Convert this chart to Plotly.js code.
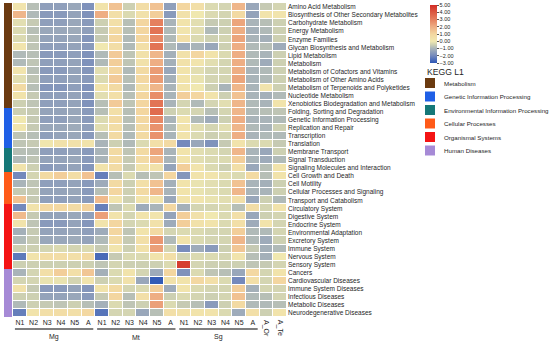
<!DOCTYPE html>
<html><head><meta charset="utf-8">
<script src="https://cdn.plot.ly/plotly-3.0.1.min.js"></script>
<style>html,body{margin:0;padding:0;background:#fff}#c{width:550px;height:341px}</style>
</head><body><div id="c"></div>
<script>
const rowLabels = ["Amino Acid Metabolism","Biosynthesis of Other Secondary Metabolites","Carbohydrate Metabolism","Energy Metabolism","Enzyme Families","Glycan Biosynthesis and Metabolism","Lipid Metabolism","Metabolism","Metabolism of Cofactors and Vitamins","Metabolism of Other Amino Acids","Metabolism of Terpenoids and Polyketides","Nucleotide Metabolism","Xenobiotics Biodegradation and Metabolism","Folding, Sorting and Degradation","Genetic Information Processing","Replication and Repair","Transcription","Translation","Membrane Transport","Signal Transduction","Signaling Molecules and Interaction","Cell Growth and Death","Cell Motility","Cellular Processes and Signaling","Transport and Catabolism","Circulatory System","Digestive System","Endocrine System","Environmental Adaptation","Excretory System","Immune System","Nervous System","Sensory System","Cancers","Cardiovascular Diseases","Immune System Diseases","Infectious Diseases","Metabolic Diseases","Neurodegenerative Diseases"];
const colLabels = ["N1","N2","N3","N4","N5","A","N1","N2","N3","N4","N5","A","N1","N2","N3","N4","N5","A","A_Or","A_Te"];
const groupNames = ["Mg","Mt","Sg"];
const groupFirst = [0,6,12];
const groupLast = [5,11,17];
const keggCategories = ["Metabolism","Genetic Information Processing","Environmental Information Processing","Cellular Processes","Organismal Systems","Human Diseases"];
const keggColors = ["#6b3a10","#1f5fe6","#157878","#ff5a18","#f41414","#a68ad6"];
const rowCategory = [0,0,0,0,0,0,0,0,0,0,0,0,0,1,1,1,1,1,2,2,2,3,3,3,3,4,4,4,4,4,4,4,4,5,5,5,5,5,5];
const values = [
[0.2,-0.8,-1.5,-1.5,-1.3,-1.8,0.3,1.5,-0.5,0.6,1.5,-1.5,1.0,0.5,-0.3,-0.4,1.8,-1.3,-0.6,-0.4],
[1.8,-0.9,-1.6,-1.6,-1.4,-1.8,2.0,0.5,-0.3,0.4,1.2,-1.6,0.4,0.0,-0.3,-0.4,0.8,-1.4,0.3,0.2],
[-0.2,-0.6,-1.5,-1.5,-1.3,-1.6,-0.5,0.5,-0.8,1.0,3.0,-1.0,0.3,-0.2,-0.6,-0.5,2.2,-1.0,-0.8,-0.5],
[-0.3,-0.8,-1.3,-1.3,-1.2,-1.5,-0.6,0.8,-0.8,1.0,3.3,-0.9,0.2,-0.2,-0.9,-0.5,2.0,-1.1,-0.9,-0.5],
[-0.3,-0.7,-1.4,-1.4,-1.3,-1.7,-0.6,1.0,-0.9,1.0,2.8,-0.9,0.5,-0.3,-0.5,-0.4,2.2,-1.0,-1.1,-0.5],
[0.2,-0.7,-1.5,-1.5,-1.4,-1.6,0.0,0.6,-0.9,0.5,3.3,-0.9,-1.2,-1.0,-1.3,-0.5,2.0,-0.9,-0.8,-1.2],
[-0.9,-0.8,-1.6,-1.6,-1.5,-1.8,-0.9,1.3,-0.7,0.4,1.8,-1.1,0.4,1.0,0.3,-0.3,2.0,-0.9,-1.0,-0.5],
[-0.9,-0.7,-1.5,-1.5,-1.4,-1.8,-0.9,1.2,-0.7,0.4,2.0,-1.1,0.4,0.2,-0.2,-0.4,2.0,-0.9,-1.2,-0.5],
[0.2,-0.8,-1.6,-1.6,-1.4,-1.7,-0.2,1.0,-0.9,0.8,2.4,-1.3,0.3,-0.2,-0.4,-0.4,2.0,-1.0,-0.9,-0.5],
[-0.2,-0.7,-1.5,-1.5,-1.4,-1.6,-0.3,1.3,-0.8,0.9,2.4,-1.1,0.3,-0.1,-0.4,-0.4,2.2,-1.0,-0.9,-0.5],
[0.8,-0.8,-1.7,-1.7,-1.5,-1.8,0.3,0.8,-0.9,0.5,1.8,-1.0,0.3,0.0,-0.5,-1.0,1.8,-1.0,0.2,-0.5],
[0.3,-0.6,-1.5,-1.5,-1.4,-1.7,-0.2,0.5,-0.8,1.0,2.7,-1.0,1.2,1.0,0.3,-0.5,1.5,-1.0,-1.1,-0.9],
[-0.5,-0.7,-1.5,-1.5,-1.4,-1.8,-0.8,1.3,-0.7,1.0,3.3,-1.0,-0.4,-0.9,-0.4,-0.2,1.8,-0.9,-1.0,0.3],
[-0.5,-0.6,-1.4,-1.4,-1.3,-1.6,-0.8,0.5,-0.8,1.0,3.5,-0.5,-0.3,-0.4,-0.8,-0.4,1.8,-0.9,-0.8,-0.7],
[0.0,-0.6,-1.5,-1.5,-1.3,-1.6,-0.3,0.8,-0.8,0.9,2.8,-1.0,0.2,-0.9,-1.2,-0.5,2.0,-1.0,-1.0,-0.9],
[0.1,-0.6,-1.3,-1.3,-1.2,-1.5,-0.2,0.6,-0.8,0.8,2.6,-0.9,0.3,-0.2,-0.4,-0.2,1.8,-0.9,-1.0,-0.5],
[-0.7,-0.8,-1.5,-1.4,-1.3,-1.6,-0.8,0.8,-0.9,0.8,2.6,-1.0,0.3,-0.3,-0.5,-0.4,2.0,-1.0,-0.9,-0.9],
[-0.7,-0.6,0.1,0.4,0.4,0.3,-1.0,-0.5,-0.9,-0.3,0.5,0.8,-2.0,-1.3,-1.8,-0.6,0.3,-0.3,-0.3,-0.6],
[-0.8,-0.8,-1.5,-1.5,-1.4,-1.6,-1.0,0.8,-0.7,0.8,2.2,-1.0,0.3,-0.2,-0.3,-0.4,1.8,-1.0,-1.3,-0.5],
[-0.9,-0.7,-1.4,-1.4,-1.3,-1.6,-1.0,0.8,-0.6,0.7,1.7,-1.0,0.3,-0.2,-0.3,-0.3,1.2,-1.0,-1.2,-0.9],
[0.3,-0.5,-1.6,-1.5,-1.4,-1.7,0.3,0.7,-0.6,0.3,0.4,-1.4,1.2,0.2,-0.3,-0.5,0.5,-1.3,-0.8,0.3],
[-2.0,-0.4,0.8,1.2,0.6,1.5,-2.2,-0.8,-0.3,-0.8,-0.7,1.0,-1.7,0.3,0.2,-0.2,-0.3,0.8,-0.8,0.3],
[-1.0,-0.7,-1.5,-1.5,-1.4,-1.6,-1.2,0.8,-0.5,0.5,1.5,-1.1,0.3,-0.1,-0.2,-0.3,1.5,-1.0,-1.1,-0.5],
[-0.6,-0.6,-1.4,-1.4,-1.3,-1.6,-0.8,1.0,-0.5,0.8,1.8,-1.0,0.3,-0.1,-0.2,-0.3,1.8,-1.0,-1.0,-0.5],
[1.5,-0.6,-1.5,-1.5,-1.4,-1.6,1.7,0.2,-0.5,0.3,0.3,-1.3,0.3,0.2,-0.1,-0.2,0.5,-1.3,-0.5,-0.9],
[-2.0,0.3,0.9,0.9,0.7,1.1,-2.2,-0.7,-0.3,-1.2,-1.0,0.9,-1.1,-0.4,-0.4,-0.3,-0.8,0.6,-0.4,0.3],
[1.7,-0.6,-1.4,-1.4,-1.3,-1.5,2.3,0.3,-0.4,0.3,0.2,-1.4,1.2,0.4,0.0,-0.3,0.5,-1.3,-0.5,-0.4],
[0.3,-0.7,-1.6,-1.6,-1.4,-1.7,0.3,1.0,-0.4,-0.3,0.4,-1.2,1.2,0.4,0.3,-0.3,0.5,-1.2,0.3,-0.4],
[-1.1,-0.6,-1.4,-1.4,-1.3,-1.5,-1.2,1.0,-0.7,0.3,0.8,-0.4,-0.3,-0.3,-0.4,-0.4,1.2,-0.9,-0.9,-0.4],
[-0.9,-0.6,-1.3,-1.3,-1.2,-1.4,-0.9,0.7,-0.6,0.5,2.5,-0.9,0.3,-0.3,-0.4,-0.4,1.8,-0.9,-1.2,-0.5],
[-0.5,-0.5,-0.4,-0.3,-0.4,-0.3,-0.6,0.2,-0.5,0.4,2.3,-0.4,-1.9,-1.2,-1.6,-0.5,1.4,-0.6,-1.1,-0.9],
[-2.3,0.3,0.6,0.6,0.5,0.8,-2.6,-0.6,-0.3,-0.3,0.3,0.5,-0.4,-0.3,-0.3,-0.4,0.2,-0.8,-1.1,0.0],
[-0.5,-0.5,-0.5,-0.5,-0.5,-0.5,-0.7,-0.4,-0.5,-0.5,-0.5,-0.3,4.6,-0.4,-0.5,-0.5,-0.5,-0.7,-0.6,-0.4],
[-1.0,-0.4,0.5,1.2,0.5,1.4,-1.1,-0.3,0.3,-0.4,-1.2,1.0,-1.8,-0.3,-0.7,-0.8,-1.3,0.9,-0.4,0.3],
[-0.4,-0.4,-0.1,-0.1,-0.4,0.2,-0.5,-0.3,0.4,-1.3,-2.9,0.4,0.3,0.9,0.5,-0.3,-2.0,0.5,-0.4,1.0],
[0.4,-0.6,-1.6,-1.6,-1.4,-1.7,0.3,0.8,-0.4,-0.3,1.2,-1.2,0.2,-0.3,-0.4,-0.4,1.2,-1.1,-0.4,-0.4],
[-0.5,-0.5,-1.4,-1.4,-1.3,-1.6,-0.6,1.0,-0.8,0.5,2.0,-0.5,-0.3,-0.4,-0.5,-0.4,1.5,-0.9,-0.8,-0.4],
[-0.9,-0.5,-0.6,-0.7,-0.5,-0.8,-1.1,-0.3,-0.7,-0.5,2.3,-0.3,-0.6,-0.8,-1.6,-0.5,0.8,-0.9,-0.9,-0.8],
[-2.2,0.3,0.5,0.6,0.5,0.9,-2.4,-0.4,-0.4,-1.3,-0.8,0.5,0.4,0.3,0.3,-0.3,-1.2,0.5,-0.5,0.3]
];
const colorTicks = [-3,-2,-1,0,1,2,3,4,5];

const FONT = "Arial, 'Liberation Sans', sans-serif";
const TXT = "#1e1e1e";
const W = 550, H = 341, ML = 4, MR = 263, MT = 3, MB = 24;
const PW = W - ML - MR, PH = H - MT - MB;
const px = x => (x - ML) / PW;
const py = y => (H - MB - y) / PH;

const rowIdx = rowLabels.map((_, i) => i);
const colIdx = colLabels.map((_, i) => i);

const heat = {
  type: 'heatmap', z: values, x: colIdx, y: rowIdx,
  xaxis: 'x', yaxis: 'y', zmin: -3, zmax: 5, xgap: 1, ygap: 1,
  colorscale: [
    [0, '#2c56b6'], [0.125, '#7489bc'], [0.25, '#a9b4b9'], [0.3125, '#cdd0b2'], [0.375, '#f0e8b0'],
    [0.5, '#f3d6a0'], [0.625, '#eeae84'], [0.75, '#e5805e'], [0.875, '#db5840'], [1, '#d32c25']
  ],
  hoverinfo: 'skip',
  colorbar: {
    x: px(430), xanchor: 'left', y: py(5), yanchor: 'top',
    len: 58, lenmode: 'pixels', thickness: 7, thicknessmode: 'pixels',
    xpad: 0, ypad: 0, outlinewidth: 0,
    tickvals: colorTicks, tickformat: '.2f', ticks: 'outside', ticklen: 2, tickcolor: '#555',
    tickfont: {family: FONT, size: 5.5, color: TXT}
  }
};

const nCat = keggCategories.length;
const catScale = [];
keggColors.forEach((c, i) => { catScale.push([i / nCat, c]); catScale.push([(i + 1) / nCat, c]); });
const bar = {
  type: 'heatmap', z: rowCategory.map(c => [c]), x: [0], y: rowIdx,
  xaxis: 'x2', yaxis: 'y', zmin: -0.5, zmax: nCat - 0.5,
  colorscale: catScale, showscale: false, hoverinfo: 'skip', xgap: 0, ygap: 0
};

const groupedCols = new Set();
groupFirst.forEach((f, g) => { for (let i = f; i <= groupLast[g]; i++) groupedCols.add(i); });

const shapes = [], annotations = [];
groupNames.forEach((g, i) => {
  shapes.push({type: 'line', xref: 'x', yref: 'paper', x0: groupFirst[i] - 0.36, x1: groupLast[i] + 0.36,
    y0: py(329), y1: py(329), line: {color: '#555', width: 1.6}});
  annotations.push({xref: 'x', yref: 'paper', x: (groupFirst[i] + groupLast[i]) / 2, y: py(337),
    text: g, showarrow: false, font: {family: FONT, size: 7, color: TXT}, xanchor: 'center', yanchor: 'middle'});
});
colIdx.forEach(i => {
  if (!groupedCols.has(i)) {
    annotations.push({xref: 'x', yref: 'paper', x: i, y: py(318), text: colLabels[i], textangle: 90,
      showarrow: false, font: {family: FONT, size: 7, color: TXT}, xanchor: 'center', yanchor: 'top'});
  }
});
annotations.push({xref: 'paper', yref: 'paper', x: px(425), y: py(72), text: 'KEGG L1', showarrow: false,
  xanchor: 'left', yanchor: 'middle', font: {family: FONT, size: 8.6, color: TXT}});
keggCategories.forEach((k, i) => {
  const cy = 83 + 13.5 * i;
  shapes.push({type: 'rect', xref: 'paper', yref: 'paper', x0: px(425), x1: px(435), y0: py(cy - 5), y1: py(cy + 5),
    fillcolor: keggColors[i], line: {width: 0}});
  annotations.push({xref: 'paper', yref: 'paper', x: px(442), y: py(cy), text: k, showarrow: false,
    xanchor: 'left', yanchor: 'middle', font: {family: FONT, size: 6.2, color: TXT}});
});

const layout = {
  width: W, height: H, margin: {l: ML, r: MR, t: MT, b: MB, pad: 0},
  paper_bgcolor: '#fff', plot_bgcolor: '#fff', showlegend: false,
  xaxis: {domain: [9 / PW, 1], range: [-0.5, colLabels.length - 0.5], showgrid: false, zeroline: false,
    tickmode: 'array', tickvals: colIdx.filter(i => groupedCols.has(i)),
    ticktext: colIdx.filter(i => groupedCols.has(i)).map(i => colLabels[i]),
    ticks: '', tickangle: 0, tickfont: {family: FONT, size: 7, color: TXT}, showline: false},
  xaxis2: {domain: [0, 8 / PW], range: [-0.5, 0.5], showgrid: false, zeroline: false, showticklabels: false, ticks: ''},
  yaxis: {range: [rowLabels.length - 0.5, -0.5], side: 'right', showgrid: false, zeroline: false,
    tickmode: 'array', tickvals: rowIdx, ticktext: rowLabels, ticks: '',
    tickfont: {family: FONT, size: 6.5, color: TXT}, showline: false},
  shapes, annotations
};
Plotly.newPlot('c', [bar, heat], layout, {displayModeBar: false, staticPlot: true});
</script></body></html>
